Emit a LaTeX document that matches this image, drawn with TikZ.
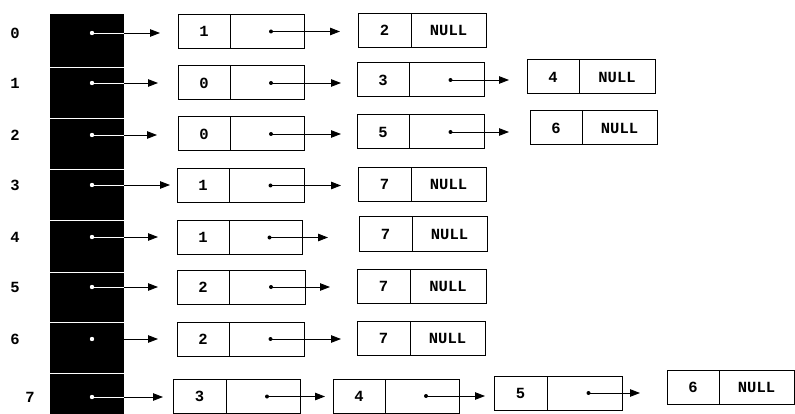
\documentclass[tikz,border=0pt]{standalone}
\usepackage{fontspec}
\newfontfamily\monob{Liberation Mono}
\usetikzlibrary{arrows.meta}
\tikzset{
  cell/.style={draw, line width=1pt, inner sep=0pt, outer sep=0pt, minimum height=34pt, anchor=west,
    font=\monob\bfseries\fontsize{15.5}{15.5}\selectfont},
  lab/.style={inner sep=0pt, font=\monob\bfseries\fontsize{15.5}{15.5}\selectfont},
  arr/.style={-{Triangle[length=10pt,width=7.5pt]}, line width=0.9pt},
  wline/.style={white, line width=0.9pt},
  divline/.style={white, line width=0.9pt}
}
\newcommand\lbox[7]{%
  \node[cell, minimum width={#3-#2}] (#1a) at (#2,#5) {#6};
  \node[cell, minimum width={#4-#3}] (#1b) at (#3,#5) {#7};}
\begin{document}
\begin{tikzpicture}[x=1pt,y=-1pt]
\useasboundingbox (0,0) rectangle (795,414);
% black column
\node[fill=black, inner sep=0pt, outer sep=0pt, minimum width=74pt, minimum height=400pt, anchor=north west] (col) at (50,14) {};
\foreach \yy in {67,118,169,220,272,322,373}{
  \draw[divline] (50,\yy) -- (124,\yy);}
% index labels
\node[lab] (l0) at (15,33) {0};
\node[lab] (l1) at (15,83) {1};
\node[lab] (l2) at (15,135) {2};
\node[lab] (l3) at (15,185) {3};
\node[lab] (l4) at (15,237) {4};
\node[lab] (l5) at (15,287) {5};
\node[lab] (l6) at (15,339) {6};
\node[lab] (l7) at (30,397) {7};
% column dots
\coordinate (c0) at (92,33);
\coordinate (c1) at (92,83);
\coordinate (c2) at (92,135);
\coordinate (c3) at (92,185);
\coordinate (c4) at (92,237);
\coordinate (c5) at (92,287);
\coordinate (c6) at (92,339);
\coordinate (c7) at (92,397);
% boxes
\lbox{r0x}{178}{230}{304}{31.5}{1}{}
\lbox{r0y}{358}{411}{486}{30.5}{2}{NULL}
\lbox{r1x}{178}{230}{304}{83}{0}{}
\lbox{r1y}{357}{409}{484}{80}{3}{}
\lbox{r1z}{527}{579}{655}{77}{4}{NULL}
\lbox{r2x}{178}{230}{304}{134}{0}{}
\lbox{r2y}{357}{409}{484}{132}{5}{}
\lbox{r2z}{530}{582}{657}{128}{6}{NULL}
\lbox{r3x}{177}{229}{304}{185.5}{1}{}
\lbox{r3y}{358}{411}{486}{184.5}{7}{NULL}
\lbox{r4x}{177}{229}{302}{237.5}{1}{}
\lbox{r4y}{359}{412}{487}{234}{7}{NULL}
\lbox{r5x}{177}{229}{305}{287}{2}{}
\lbox{r5y}{357}{410}{486}{286}{7}{NULL}
\lbox{r6x}{177}{229}{304}{339}{2}{}
\lbox{r6y}{357}{410}{485}{338}{7}{NULL}
\lbox{r7x}{173}{226}{300}{396.5}{3}{}
\lbox{r7y}{333}{385}{459}{396}{4}{}
\lbox{r7z}{494}{547}{622}{393}{5}{}
\lbox{r7w}{667}{719}{794}{387}{6}{NULL}
% column arrows
\draw[arr, shorten >=18pt] (c0) -- (c0 -| r0xa.west);
\draw[arr, shorten >=20pt] (c1) -- (c1 -| r1xa.west);
\draw[arr, shorten >=21pt] (c2) -- (c2 -| r2xa.west);
\draw[arr, shorten >=7pt]  (c3) -- (c3 -| r3xa.west);
\draw[arr, shorten >=19pt] (c4) -- (c4 -| r4xa.west);
\draw[arr, shorten >=19pt] (c5) -- (c5 -| r5xa.west);
\draw[arr, shorten >=19pt] (c6 -| col.east) -- (c6 -| r6xa.west);
\draw[arr, shorten >=10pt] (c7) -- (c7 -| r7xa.west);
\foreach \i in {0,1,2,3,4,5,7}{
  \draw[wline] (c\i) -- (c\i -| col.east);}
\foreach \i in {0,...,7}{
  \fill[white] (c\i) circle[radius=2.2pt];}
% inner pointers
\foreach \s/\t/\sh in {r0xb/r0ya/18,r1xb/r1ya/16,r1yb/r1za/18,r2xb/r2ya/16,r2yb/r2za/21,r3xb/r3ya/17,r4xb/r4ya/31,r5xb/r5ya/27,r6xb/r6ya/16,r7xb/r7ya/8,r7yb/r7za/9,r7zb/r7wa/27}{
  \coordinate (p) at ([xshift=4pt]\s.center);
  \draw[arr, shorten >=\sh pt] (p) -- (p -| \t.west);
  \fill (p) circle[radius=2pt];
}
\end{tikzpicture}
\end{document}
